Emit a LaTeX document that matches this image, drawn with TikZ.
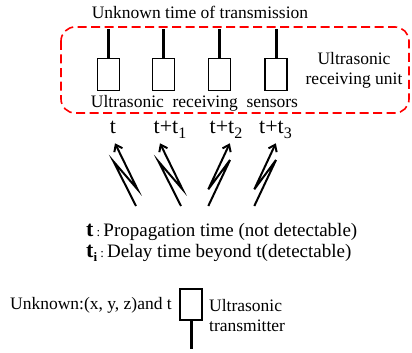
\documentclass[tikz,border=0pt]{standalone}
\usepackage{fontspec}
\setmainfont{Liberation Serif}
\usetikzlibrary{arrows,arrows.meta,positioning}
\definecolor{myred}{rgb}{1,0,0}
\newcommand{\lowsub}[1]{\raisebox{-4pt}{\fontsize{13}{13}\selectfont #1}}
\newcommand{\timesub}[1]{\raisebox{-5pt}{\fontsize{16}{16}\selectfont #1}}

\begin{document}
\begin{tikzpicture}[x=1pt,y=-1pt,
  sensor/.style={draw,line width=1.8pt,minimum width=22pt,minimum height=32pt,inner sep=0pt},
  antenna/.style={line width=3pt},
  lbl/.style={font=\fontsize{17.5}{20}\selectfont,inner sep=0pt},
  timelbl/.style={font=\fontsize{22}{24}\selectfont,inner sep=0pt,anchor=base},
  legend/.style={font=\fontsize{19}{22}\selectfont,inner sep=0pt,anchor=west},
  zig/.style={line width=2pt,line join=miter,-{Straight Barb[length=6pt,width=9pt,line width=2pt]}}]
\useasboundingbox (0,0) rectangle (412,353);

\node[lbl] (title) at (200,12) {Unknown time of transmission};
\draw[myred,line width=1.6pt,rounded corners=14pt,dash pattern=on 9pt off 4.5pt] (61,27) rectangle (409,113);

% receiving sensors
\foreach \i/\x in {0/108.5,1/163.5,2/219.5,3/276}{
  \node[sensor] (s\i) at (\x,74.5) {};
  \draw[antenna] (s\i.north) -- ++(0,-29);
}
\node[lbl] (sensors) at (194.5,103) {Ultrasonic\ \ receiving\ \ sensors};
\node[lbl,align=center] (unit) at (354,70) {Ultrasonic\\receiving unit};

% arrival times
\node[timelbl] (t0) at (113,133) {t};
\node[timelbl] (t1) at (170,133) {t+t\timesub{1}};
\node[timelbl] (t2) at (226,133) {t+t\timesub{2}};
\node[timelbl] (t3) at (275.5,133) {t+t\timesub{3}};

\foreach \b in {136,181}
  \draw[zig] (\b,206) -- (\b-22.5,161.5) -- (\b+1.5,189.3) -- (\b-21,143.3);
\foreach \b in {208.3,254.3}
  \draw[zig] (\b,206) -- (\b+21.7,160) -- (\b,189.3) -- (\b+21.5,143.3);

% legend
\node[legend] (prop) at (86,232) {{\fontsize{22}{22}\bfseries t}\,{\fontsize{13}{13}\selectfont :}\,Propagation time (not detectable)};
\node[legend] (delay) at (86,253) {{\fontsize{22}{22}\bfseries t\lowsub{\bfseries i}}\,{\fontsize{13}{13}\selectfont :}\,Delay time beyond t(detectable)};

% transmitter
\node[sensor,minimum height=31pt] (tx) at (191,304.5) {};
\draw[antenna] (tx.south) -- ++(0,28);
\node[lbl,anchor=east] (unknown) at (172,305) {Unknown:(x, y, z)and t};
\node[lbl,align=left,anchor=west] (txlbl) at (209,316) {Ultrasonic\\transmitter};
\end{tikzpicture}
\end{document}
